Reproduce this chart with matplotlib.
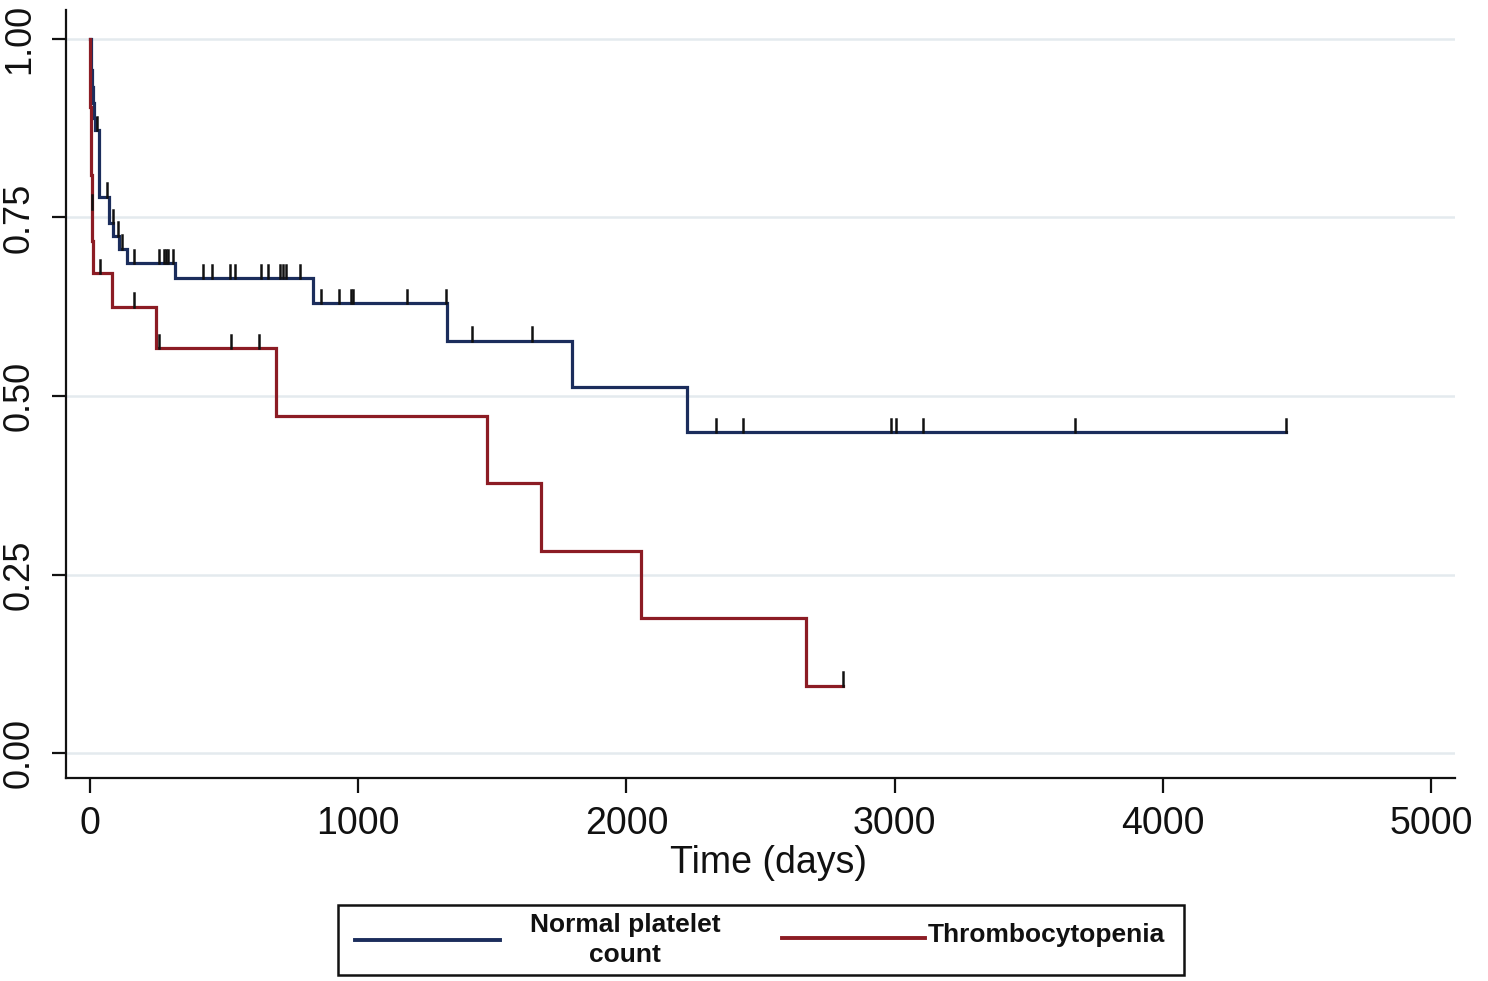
import numpy as np
import matplotlib
matplotlib.use("Agg")
import matplotlib.pyplot as plt
from matplotlib.patches import Rectangle
from matplotlib.lines import Line2D

# ---------------- data ----------------
normal_t = [0, 3, 6, 9, 12, 15, 18, 34, 71, 87, 109, 140, 317, 831, 1331, 1796, 2225]
normal_s = [1.0, 0.978, 0.956, 0.933, 0.911, 0.889, 0.872, 0.779, 0.742, 0.724,
            0.706, 0.686, 0.665, 0.630, 0.577, 0.513, 0.449]
normal_end = 4458
normal_censor = [25, 62, 85, 103, 120, 164, 257, 276, 283, 292, 310, 420, 454, 524,
                 540, 637, 663, 708, 718, 731, 783, 861, 928, 973, 980, 1181, 1327,
                 1424, 1647, 2333, 2436, 2985, 3004, 3104, 3671, 4458]

thrombo_t = [0, 1, 2, 4, 5, 7, 9, 11, 82, 246, 693, 1480, 1681, 2054, 2669]
thrombo_s = [1.0, 0.952, 0.905, 0.857, 0.810, 0.762, 0.717, 0.672, 0.625, 0.567,
             0.472, 0.378, 0.283, 0.189, 0.094]
thrombo_end = 2807
thrombo_censor = [8, 37, 164, 257, 525, 630, 2807]

x_ticks = [0, 1000, 2000, 3000, 4000, 5000]
y_ticks = [0.00, 0.25, 0.50, 0.75, 1.00]
y_ticklabels = ["0.00", "0.25", "0.50", "0.75", "1.00"]
legend_labels = ["Normal platelet\ncount", "Thrombocytopenia"]

BLUE = "#1b2d5c"
RED = "#8c1c24"
W, H = 1488, 981

plt.rcParams['font.family'] = ['Liberation Sans', 'DejaVu Sans']

fig = plt.figure(figsize=(W / 100, H / 100), dpi=100)
ax = fig.add_axes([66 / W, 1 - 778 / H, (1455 - 66) / W, (778 - 10) / H])

ax.set_xlim(-89, 5088)
ax.set_ylim(-0.035, 1.0406)

for yt in y_ticks:
    ax.axhline(yt, color="#e4eaee", lw=1.8, zorder=0)


def draw_curve(t, s, end, censor, color):
    tt = list(t) + [end]
    ss = list(s) + [s[-1]]
    ax.step(tt, ss, where="post", color=color, lw=2.3, zorder=3,
            solid_joinstyle="miter")
    tarr = np.array(t)
    sarr = np.array(s)
    for c in censor:
        idx = np.searchsorted(tarr, c, side="right") - 1
        lvl = sarr[idx]
        ax.plot([c, c], [lvl, lvl + 0.019], color="#111111", lw=1.8, zorder=4)


draw_curve(normal_t, normal_s, normal_end, normal_censor, BLUE)
draw_curve(thrombo_t, thrombo_s, thrombo_end, thrombo_censor, RED)

for side in ["top", "right"]:
    ax.spines[side].set_visible(False)
for side in ["left", "bottom"]:
    ax.spines[side].set_linewidth(1.6)
    ax.spines[side].set_color("#111111")

ax.set_xticks(x_ticks)
ax.set_xticklabels([str(v) for v in x_ticks])
ax.set_yticks(y_ticks)
ax.set_yticklabels(y_ticklabels, rotation=90, va="center")
ax.tick_params(axis="x", length=11, width=1.6, pad=9, labelsize=27, colors="#111111")
ax.tick_params(axis="y", length=10, width=1.6, pad=11, labelsize=26, colors="#111111")

fig.text(768 / W, 1 - 863 / H, "Time (days)", ha="center", va="center",
         fontsize=27, color="#111111")

# legend box
fig.patches.append(Rectangle((338 / W, 1 - 975 / H), (1184 - 338) / W, 70 / H,
                             transform=fig.transFigure, fill=False,
                             edgecolor="#111111", lw=1.8))
fig.lines.append(Line2D([355 / W, 500 / W], [1 - 940 / H, 1 - 940 / H],
                        transform=fig.transFigure, color=BLUE, lw=2.8))
fig.lines.append(Line2D([782 / W, 925 / W], [1 - 938 / H, 1 - 938 / H],
                        transform=fig.transFigure, color=RED, lw=2.8))
fig.text(625 / W, 1 - 940 / H, legend_labels[0], ha="center", va="center",
         multialignment="center", fontsize=19, fontweight="bold",
         linespacing=1.3, color="#111111")
fig.text(928 / W, 1 - 935 / H, legend_labels[1], ha="left", va="center",
         fontsize=19, fontweight="bold", color="#111111")

fig.savefig("out.png", dpi=100)
